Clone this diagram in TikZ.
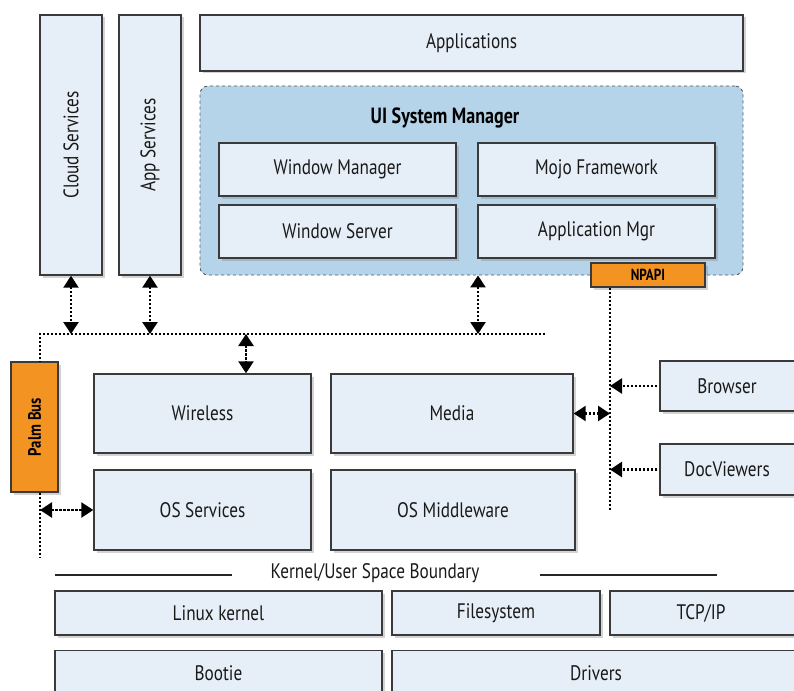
\documentclass[tikz,border=0pt]{standalone}
\usepackage{fontspec}
\setmainfont[FakeStretch=0.82]{PT Sans}
\usetikzlibrary{arrows.meta,shadows}
\definecolor{boxfill}{HTML}{E6EFF7}
\definecolor{boxline}{HTML}{3A3A3A}
\definecolor{uifill}{HTML}{B5D4EA}
\definecolor{orangefill}{HTML}{F39322}
\begin{document}
\begin{tikzpicture}[x=1pt,y=-1pt,
  lbl/.style={font=\fontsize{21}{23}\selectfont,text=black!90},
  blk/.style={draw=boxline,line width=1.4pt,fill=boxfill,inner sep=0pt,lbl,
    drop shadow={shadow xshift=2.5pt,shadow yshift=-2.5pt,opacity=0.35}},
  orng/.style={draw=boxline,line width=1.2pt,fill=orangefill,inner sep=0pt,
    drop shadow={shadow xshift=2.5pt,shadow yshift=-2.5pt,opacity=0.35}},
  bus/.style={line width=2.4pt,dash pattern=on 2.2pt off 1.8pt},
  both/.style={bus,{Triangle[width=15pt,length=12pt]}-{Triangle[width=15pt,length=12pt]}},
  toline/.style={bus,-{Triangle[width=15pt,length=12pt]}},
  bound/.style={line width=2.6pt,draw=black!85}
]
\useasboundingbox (0,0) rectangle (794,690);
% vertical services
\node[blk,minimum width=62pt,minimum height=260pt] (cloud) at (71,145) {};
\node[rotate=90,lbl] (cloudt) at (71,145) {Cloud Services};
\node[blk,minimum width=62pt,minimum height=260pt] (apps) at (150,145) {};
\node[rotate=90,lbl] (appst) at (150,145) {App Services};
% applications
\node[blk,minimum width=543pt,minimum height=56pt] (appl) at (471.5,43) {Applications};
% UI System Manager
\node[draw=black!65,dashed,line width=0.9pt,fill=uifill,rounded corners=8pt,
  minimum width=543pt,minimum height=189pt] (uism) at (471.5,180.5) {};
\node[font=\fontsize{22}{24}\selectfont\bfseries] (uismt) at (445,118) {UI System Manager};
\node[blk,minimum width=237pt,minimum height=53pt] (wm) at (337.5,169.5) {Window Manager};
\node[blk,minimum width=237pt,minimum height=53pt] (mojo) at (596.5,169.5) {Mojo Framework};
\node[blk,minimum width=237pt,minimum height=53pt] (ws) at (337.5,231.5) {Window Server};
\node[blk,minimum width=237pt,minimum height=53pt] (am) at (596.5,231.5) {Application Mgr};
\node[orng,minimum width=114pt,minimum height=24pt,font=\fontsize{16}{17}\selectfont\bfseries] (npapi) at (648,275) {NPAPI};
% Palm bus
\node[orng,minimum width=47pt,minimum height=130pt] (palm) at (34.5,427) {};
\node[rotate=90,font=\fontsize{18}{19}\selectfont\bfseries] (palmt) at (34.5,427) {Palm Bus};
% middle blocks
\node[blk,minimum width=217pt,minimum height=79pt] (wireless) at (202.5,413.5) {Wireless};
\node[blk,minimum width=242pt,minimum height=79pt] (media) at (452,413.5) {Media};
\node[blk,minimum width=217pt,minimum height=80pt] (ossvc) at (202.5,510) {OS Services};
\node[blk,minimum width=244pt,minimum height=80pt] (osmw) at (453,510) {OS Middleware};
\node[blk,minimum width=140pt,minimum height=50pt] (browser) at (730,386) {\hspace*{-6pt}Browser};
\node[blk,minimum width=140pt,minimum height=51pt] (docv) at (730,469.5) {\hspace*{-6pt}DocViewers};
% kernel boundary
\node[lbl] (kub) at (375,573) {Kernel/User Space Boundary};
\coordinate (kl1) at (55,575);
\coordinate (kl2) at (232,575);
\coordinate (kr1) at (540,575);
\coordinate (kr2) at (717,575);
\draw[bound] (kl1) -- (kl2);
\draw[bound] (kr1) -- (kr2);
% kernel blocks
\node[blk,minimum width=327pt,minimum height=44pt] (linux) at (218.5,613) {Linux kernel};
\node[blk,minimum width=208pt,minimum height=44pt] (fs) at (496,613) {Filesystem};
\node[blk,minimum width=190pt,minimum height=44pt] (tcp) at (705,613) {\hspace*{-8pt}TCP/IP};
\node[blk,minimum width=327pt,minimum height=52pt,anchor=north] (bootie) at (218.5,650) {\raisebox{8pt}{Bootie}};
\node[blk,minimum width=408pt,minimum height=52pt,anchor=north] (drivers) at (596,650) {\raisebox{8pt}{Drivers}};
% bus
\coordinate (busL) at (40,334);
\coordinate (busR) at (545,334);
\coordinate (busE) at (40,557);
\coordinate (w1) at (246,334);
\coordinate (u1) at (478,334);
\coordinate (np1) at (610,510);
\draw[bus] (busR) -- (busL) -- (busL |- palm.north);
\draw[bus] (busL |- palm.south) -- (busE);
\draw[both] (cloud.south) -- (cloud.south |- busL);
\draw[both] (apps.south) -- (apps.south |- busL);
\draw[both] (u1 |- uism.south) -- (u1);
\draw[both] (w1) -- (w1 |- wireless.north);
\draw[both] (busL |- ossvc.west) -- (ossvc.west);
\draw[bus] (np1 |- npapi.south) -- (np1);
\draw[both] (media.east) -- (media.east -| np1);
\draw[toline,shorten <=2pt] (browser.west) -- (browser.west -| np1);
\draw[toline,shorten <=2pt] (docv.west) -- (docv.west -| np1);
\end{tikzpicture}
\end{document}
